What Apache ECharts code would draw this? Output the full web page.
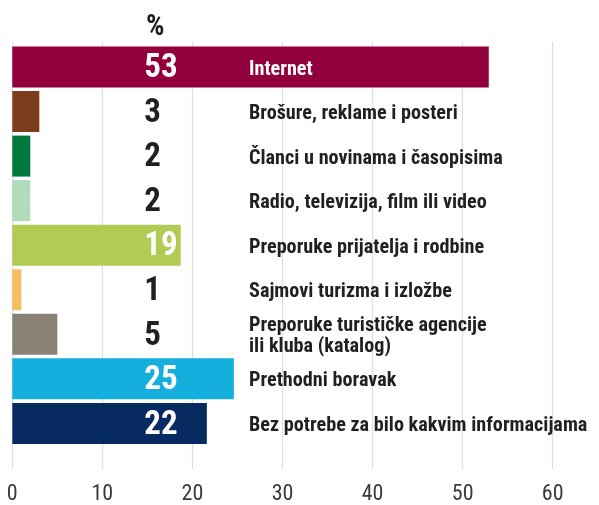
<!DOCTYPE html>
<html>
<head>
<meta charset="utf-8">
<script src="https://cdn.jsdelivr.net/npm/echarts@6/dist/echarts.min.js"></script>
<style>html,body{margin:0;padding:0;background:#fff}#c{width:599px;height:505px}</style>
</head>
<body>
<div id="c"></div>
<script>
const categories = [
  'Internet',
  'Brošure, reklame i posteri',
  'Članci u novinama i časopisima',
  'Radio, televizija, film ili video',
  'Preporuke prijatelja i rodbine',
  'Sajmovi turizma i izložbe',
  'Preporuke turističke agencije\nili kluba (katalog)',
  'Prethodni boravak',
  'Bez potrebe za bilo kakvim informacijama'
];
const values = [52.9, 3.0, 2.0, 2.0, 18.7, 1.0, 5.0, 24.6, 21.6];
const xTicks = [0, 10, 20, 30, 40, 50, 60];
const unitLabel = '%';

// styles
const barColors = ['#91003d', '#7d3c1b', '#00773f', '#b2dcb9', '#b2cb55', '#f5be5e', '#878275', '#14afdc', '#072a61'];
const lightText = [true, false, false, false, true, false, false, true, true];
const FONT = '"Liberation Sans Narrow", "Roboto Condensed", "Arial Narrow", sans-serif';
const DARK = '#231f20';

const chart = echarts.init(document.getElementById('c'), null, {renderer: 'canvas'});
const L = 12.3, R = 46.3;
chart.setOption({
  animation: false,
  graphic: [{
    type: 'text', left: 146, top: 13,
    style: {text: unitLabel, font: 'bold 29px ' + FONT, fill: DARK}
  }],
  grid: [
    {left: L, right: R, top: 44.7, height: 401, containLabel: false},
    {left: L, right: R, top: 42, bottom: 35, containLabel: false},
    {left: L, right: R, top: 47.2, height: 401, containLabel: false}
  ],
  xAxis: [
    {gridIndex: 0, type: 'value', min: 0, max: 60, interval: 10, show: false},
    {gridIndex: 1, type: 'value', min: 0, max: 60, interval: 10,
     axisLine: {show: false}, axisTick: {show: false},
     splitLine: {show: true, lineStyle: {color: '#d5e0ea', width: 1.3}},
     axisLabel: {margin: 14, fontFamily: FONT, fontSize: 22, color: '#3a3a3a',
       formatter: v => xTicks.indexOf(v) >= 0 ? String(v) : ''}},
    {gridIndex: 2, type: 'value', min: 0, max: 60, show: false}
  ],
  yAxis: [
    {gridIndex: 0, type: 'category', data: categories, inverse: true, show: false},
    {gridIndex: 1, type: 'value', show: false},
    {gridIndex: 2, type: 'category', data: categories, inverse: true, z: 10,
     axisLine: {show: false}, axisTick: {show: false}, splitLine: {show: false},
     axisLabel: {align: 'left', margin: -(249 - L), fontFamily: FONT, fontWeight: 'bold',
       fontSize: 20.2, lineHeight: 21,
       color: (v, i) => i === 0 ? '#ffffff' : DARK}}
  ],
  series: [{
    type: 'bar', xAxisIndex: 0, yAxisIndex: 0,
    barCategoryGap: '8%',
    data: values.map((v, i) => ({
      value: v,
      itemStyle: {color: barColors[i]},
      label: {color: lightText[i] ? '#ffffff' : DARK}
    })),
    label: {show: true, position: [132, '50%'], align: 'left', verticalAlign: 'middle',
      offset: [0, 2],
      fontFamily: FONT, fontWeight: 'bold', fontSize: 33,
      formatter: p => String(Math.round(p.value))}
  }]
});
</script>
</body>
</html>
